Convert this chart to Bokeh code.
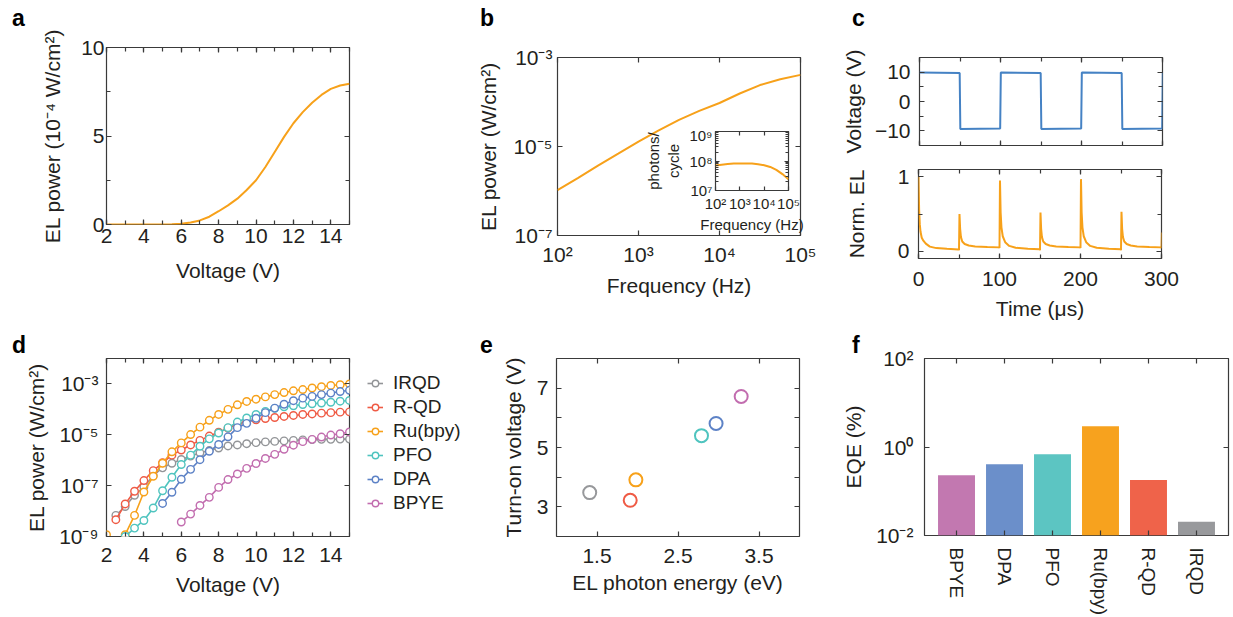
import numpy as np
from bokeh.plotting import figure
from bokeh.layouts import column
from bokeh.models import (GridBox, Range1d, FixedTicker, SingleIntervalTicker,
                          LinearAxis, LogAxis, CustomJSTickFormatter,
                          Legend, LegendItem, Div)
from bokeh.embed import file_html
from bokeh.resources import INLINE

# ---------------- data ----------------
# (a) EL power (1e-4 W/cm^2) vs voltage
A_VOLTAGE = [2.0, 2.5, 3.0, 3.5, 4.0, 4.5, 5.0, 5.5, 6.0, 6.5, 7.0, 7.5, 8.0, 8.5,
             9.0, 9.5, 10.0, 10.5, 11.0, 11.5, 12.0, 12.5, 13.0, 13.5, 14.0, 14.5, 15.0]
A_POWER = [0, 0, 0, 0, 0, 0.002, 0.006, 0.016, 0.045, 0.11, 0.23, 0.44, 0.75, 1.08,
           1.46, 1.95, 2.5, 3.25, 4.1, 4.95, 5.72, 6.35, 6.88, 7.32, 7.66, 7.85, 7.95]

# (b) EL power vs frequency, and inset photons/cycle
B_FREQ = [100, 178, 316, 562, 1000, 1778, 3162, 5623, 10000, 17783, 31623, 56234, 100000]
B_POWER = [1.05e-6, 1.95e-6, 3.72e-6, 6.9e-6, 1.29e-5, 2.29e-5, 3.98e-5, 6.3e-5,
           9.5e-5, 1.55e-4, 2.4e-4, 3.24e-4, 4.07e-4]
B_PHOTONS = [7.0e7, 7.5e7, 7.9e7, 8.2e7, 8.3e7, 8.3e7, 8.2e7, 7.8e7, 7.2e7, 6.3e7,
             5.0e7, 3.6e7, 2.4e7]

# (c) applied voltage and normalised EL vs time (us)
C_V_TIME = [0, 49.6, 50.4, 99.6, 100.4, 149.6, 150.4, 199.6, 200.4, 249.6, 250.4, 299.6, 300.4]
C_VOLT = [9.9, 9.7, -9.4, -9.2, 9.9, 9.7, -9.4, -9.2, 9.9, 9.7, -9.4, -9.2, 9.9]
C_EL_TIME = [0, 0.8, 1.6, 2.5, 4, 6, 9, 14, 22, 35, 49.6,
             50, 50.6, 51.4, 52.4, 54, 57, 62, 70, 85, 99.6,
             100, 100.6, 101.4, 102.4, 104, 107, 112, 120, 135, 149.6,
             150, 150.6, 151.4, 152.4, 154, 157, 162, 170, 185, 199.6,
             200, 200.6, 201.4, 202.4, 204, 207, 212, 220, 235, 249.6,
             250, 250.6, 251.4, 252.4, 254, 257, 262, 270, 285, 299.6,
             300, 300.5]
C_EL = [1.0, 0.55, 0.36, 0.26, 0.18, 0.14, 0.1, 0.06, 0.04, 0.03, 0.022,
        0.012, 0.5, 0.3, 0.19, 0.13, 0.095, 0.075, 0.062, 0.055, 0.05,
        0.04, 0.95, 0.52, 0.32, 0.2, 0.12, 0.07, 0.045, 0.032, 0.024,
        0.012, 0.52, 0.3, 0.19, 0.13, 0.095, 0.075, 0.062, 0.055, 0.05,
        0.04, 0.97, 0.52, 0.32, 0.2, 0.12, 0.07, 0.045, 0.032, 0.024,
        0.012, 0.53, 0.3, 0.19, 0.13, 0.095, 0.075, 0.062, 0.055, 0.05,
        0.04, 0.25]

# (d) EL power (log10 W/cm^2) vs voltage for each emitter
D_VOLTAGE = A_VOLTAGE
D_NAMES = ["IRQD", "R-QD", "Ru(bpy)", "PFO", "DPA", "BPYE"]
D_START = [2.5, 2.5, 2.0, 3.0, 5.0, 6.0]
IRQD_LOG = [-8.17, -7.82, -7.38, -7.05, -6.6, -6.3, -6.12, -5.97, -5.84, -5.71, -5.62, -5.52, -5.44,
            -5.4, -5.35, -5.31, -5.28, -5.26, -5.24, -5.22, -5.2, -5.19, -5.18, -5.18, -5.17, -5.17]
RQD_LOG = [-8.34, -7.72, -7.22, -6.8, -6.41, -6.1, -5.8, -5.6, -5.4, -5.22, -5.05, -4.9, -4.74,
           -4.58, -4.48, -4.41, -4.36, -4.32, -4.28, -4.24, -4.2, -4.18, -4.15, -4.13, -4.11, -4.1]
RU_LOG = [-8.93, -9.6, -8.93, -8.17, -7.25, -6.63, -6.12, -5.67, -5.32, -4.99, -4.7, -4.43, -4.2, -4.0,
          -3.82, -3.69, -3.6, -3.51, -3.42, -3.34, -3.27, -3.22, -3.16, -3.11, -3.06, -3.03, -3.0]
PFO_LOG = [-9.0, -8.67, -8.37, -7.88, -7.2, -6.67, -6.17, -5.8, -5.45, -5.16, -4.93, -4.72, -4.5,
           -4.34, -4.2, -4.08, -3.96, -3.9, -3.86, -3.81, -3.78, -3.75, -3.72, -3.68, -3.65]
DPA_LOG = [-7.7, -7.26, -6.75, -6.36, -5.98, -5.65, -5.38, -5.08, -4.72, -4.55, -4.35, -4.13,
           -3.95, -3.8, -3.66, -3.56, -3.49, -3.42, -3.36, -3.3, -3.25]
BPYE_LOG = [-8.43, -8.12, -7.78, -7.46, -7.07, -6.76, -6.54, -6.32, -6.13, -5.93, -5.77, -5.57,
            -5.41, -5.27, -5.18, -5.09, -5.01, -4.96, -4.89]
D_LOGS = [IRQD_LOG, RQD_LOG, RU_LOG, PFO_LOG, DPA_LOG, BPYE_LOG]
D_COLORS = ["#939598", "#EF5B45", "#F7A11A", "#4FC4BF", "#5D82C6", "#C26DAF"]

# (e) turn-on voltage vs EL photon energy
E_NAMES = ["IRQD", "R-QD", "Ru(bpy)", "PFO", "DPA", "BPYE"]
E_ENERGY = [1.41, 1.91, 1.98, 2.79, 2.97, 3.28]
E_TURNON = [3.48, 3.22, 3.91, 5.40, 5.81, 6.72]
E_COLORS = ["#97989B", "#EF5B45", "#F7A11A", "#4FC4BF", "#5D82C6", "#C26DAF"]

# (f) EQE (%)
F_NAMES = ["BPYE", "DPA", "PFO", "Ru(bpy)", "R-QD", "IRQD"]
F_EQE = [0.23, 0.41, 0.69, 2.96, 0.18, 0.0205]
F_COLORS = ["#C278B0", "#6B8FCA", "#5CC5C2", "#F7A21E", "#EF634A", "#98999C"]
F_FLOOR = 1e-2

# ---------------- style ----------------
FONT = "Liberation Sans"
TXT = "#231f20"
AX = "#3a3a3a"
ORANGE = "#F7A11A"
BLUE = "#4582C4"
TICK_FS = "21px"
LABEL_FS = "21px"

SUP = CustomJSTickFormatter(code="""
const m = {"-": "\u207b", "0": "\u2070", "1": "\u00b9", "2": "\u00b2", "3": "\u00b3",
           "4": "\u2074", "5": "\u2075", "6": "\u2076", "7": "\u2077", "8": "\u2078", "9": "\u2079"};
const e = Math.round(Math.log10(tick));
return "10" + String(e).split("").map((c) => m[c]).join("");
""")
MINUS = CustomJSTickFormatter(code="""
return (tick < 0 ? "\u2212" : "") + String(Math.abs(tick));
""")
BLANK = CustomJSTickFormatter(code="return '';")

placed = []


def make_panel(L, T, W, H, xr, yr, xtype="linear", ytype="linear", bl=90, bt=35, br=30, bb=70):
    p = figure(frame_width=W, frame_height=H, x_range=xr, y_range=yr,
               x_axis_type=xtype, y_axis_type=ytype,
               output_backend="svg", toolbar_location=None,
               min_border_left=bl, min_border_top=bt, min_border_right=br, min_border_bottom=bb)
    p.border_fill_color = None
    p.background_fill_color = "white"
    p.outline_line_color = AX
    p.outline_line_width = 1.2
    p.xgrid.visible = False
    p.ygrid.visible = False
    placed.append(column(p, margin=(T - bt, 0, 0, L - bl)))
    return p


def finish_axes(p, xticker, yticker, xtype="linear", ytype="linear", xfmt=None, yfmt=None,
                tick_fs=TICK_FS, label_fs=LABEL_FS, minor_in=4, major_in=5):
    bx, ly = p.xaxis[0], p.yaxis[0]
    bx.ticker = xticker
    ly.ticker = yticker
    if xfmt is not None:
        bx.formatter = xfmt
    if yfmt is not None:
        ly.formatter = yfmt
    X = LogAxis if xtype == "log" else LinearAxis
    Y = LogAxis if ytype == "log" else LinearAxis
    top = X(ticker=xticker, formatter=BLANK)
    right = Y(ticker=yticker, formatter=BLANK)
    for a in (top, right):
        a.major_label_text_font_size = "1px"
        a.major_label_standoff = 0
    p.add_layout(top, "above")
    p.add_layout(right, "right")
    for a in [bx, ly, top, right]:
        a.axis_line_color = None
        a.major_tick_in = major_in
        a.major_tick_out = 0
        a.minor_tick_in = minor_in
        a.minor_tick_out = 0
        a.major_tick_line_color = AX
        a.minor_tick_line_color = AX
        a.major_tick_line_width = 1.2
        a.minor_tick_line_width = 1.2
    for a in [bx, ly]:
        a.major_label_text_font = FONT
        a.major_label_text_font_size = tick_fs
        a.major_label_text_color = TXT
        a.axis_label_text_font = FONT
        a.axis_label_text_font_size = label_fs
        a.axis_label_text_font_style = "normal"
        a.axis_label_text_color = TXT
    return bx, ly


def letter(text, px, baseline):
    placed.append(Div(text=text, margin=(baseline - 15, 0, 0, px),
                      styles={"font-family": FONT, "font-size": "23px", "font-weight": "bold",
                              "line-height": "17px", "color": "black"}))


# ---------------- panel a ----------------
pa = make_panel(106, 47, 243, 177, Range1d(2, 15), Range1d(0, 10), bl=95, bt=39, br=40, bb=75)
bx, ly = finish_axes(pa, SingleIntervalTicker(interval=2, num_minor_ticks=2),
                     SingleIntervalTicker(interval=5, num_minor_ticks=2))
bx.axis_label = "Voltage (V)"
ly.axis_label = "EL power (10\u207b\u2074 W/cm\u00b2)"
ly.major_label_standoff = 2
ly.axis_label_standoff = 14
bx.major_label_standoff = 4
bx.axis_label_standoff = 13
pa.line(A_VOLTAGE, A_POWER, line_color=ORANGE, line_width=2)
letter("a", 12, 25)

# ---------------- panel b ----------------
pb = make_panel(557, 57, 243, 178, Range1d(1e2, 1e5), Range1d(1e-7, 1e-3),
                xtype="log", ytype="log", bl=110, bt=49, br=20, bb=75)
bx, ly = finish_axes(pb, FixedTicker(ticks=[1e2, 1e3, 1e4, 1e5], minor_ticks=[]),
                     FixedTicker(ticks=[1e-7, 1e-5, 1e-3], minor_ticks=[]),
                     xtype="log", ytype="log", xfmt=SUP, yfmt=SUP)
bx.axis_label = "Frequency (Hz)"
ly.axis_label = "EL power (W/cm\u00b2)"
ly.major_label_standoff = 5
ly.axis_label_standoff = 10
bx.major_label_standoff = 7
bx.axis_label_standoff = 5
pb.line(B_FREQ, B_POWER, line_color=ORANGE, line_width=2)
letter("b", 480, 25)

# inset of b
INSET_MAJOR = [1e7, 1e8, 1e9]
INSET_MINOR = [m * 10 ** e for e in (7, 8) for m in range(2, 10)]
pbi = make_panel(707, 131, 73, 59, Range1d(1e2, 1e5), Range1d(1e7, 1e9),
                 xtype="log", ytype="log", bl=66, bt=5, br=30, bb=45)
bx, ly = finish_axes(pbi, FixedTicker(ticks=[1e2, 1e3, 1e4, 1e5], minor_ticks=[]),
                     FixedTicker(ticks=INSET_MAJOR, minor_ticks=INSET_MINOR),
                     xtype="log", ytype="log",
                     xfmt=SUP, yfmt=SUP, tick_fs="15px", label_fs="15px", minor_in=3, major_in=4)
bx.axis_label = "Frequency (Hz)"
ly.axis_label = "photons/\ncycle"
ly.major_label_standoff = 3
ly.axis_label_standoff = 4
bx.major_label_standoff = 4
bx.axis_label_standoff = 1
pbi.line(B_FREQ, B_PHOTONS, line_color=ORANGE, line_width=2)

# ---------------- panel c ----------------
pc1 = make_panel(918, 57, 243, 88, Range1d(0, 300), Range1d(-15, 15), bl=80, bt=49, br=50, bb=10)
bx, ly = finish_axes(pc1, SingleIntervalTicker(interval=100, num_minor_ticks=2),
                     SingleIntervalTicker(interval=10, num_minor_ticks=2), yfmt=MINUS)
bx.formatter = BLANK
bx.major_label_text_font_size = "1px"
bx.major_label_standoff = 0
ly.axis_label = "Voltage (V)"
ly.major_label_standoff = 9
ly.axis_label_standoff = 7
pc1.line(C_V_TIME, C_VOLT, line_color=BLUE, line_width=2)
letter("c", 852, 25)

pc2 = make_panel(918, 169, 243, 89, Range1d(0, 300), Range1d(-0.1, 1.1), bl=80, bt=10, br=50, bb=70)
bx, ly = finish_axes(pc2, SingleIntervalTicker(interval=100, num_minor_ticks=2),
                     SingleIntervalTicker(interval=1, num_minor_ticks=2))
ly.axis_label = "Norm. EL"
bx.axis_label = "Time (\u03bcs)"
ly.major_label_standoff = 9
ly.axis_label_standoff = 27
bx.major_label_standoff = 13
bx.axis_label_standoff = 8
pc2.line(C_EL_TIME, C_EL, line_color=ORANGE, line_width=2)

# ---------------- panel d ----------------
pd_ = make_panel(106, 358, 243, 178, Range1d(2, 15), Range1d(1e-9, 1e-2), ytype="log",
                 bl=95, bt=30, br=20, bb=72)
bx, ly = finish_axes(pd_, SingleIntervalTicker(interval=2, num_minor_ticks=2),
                     FixedTicker(ticks=[1e-9, 1e-7, 1e-5, 1e-3], minor_ticks=[]),
                     ytype="log", yfmt=SUP)
bx.axis_label = "Voltage (V)"
ly.axis_label = "EL power (W/cm\u00b2)"
ly.major_label_standoff = 8
ly.axis_label_standoff = 8
bx.major_label_standoff = 11
bx.axis_label_standoff = 8
for name, start, logs, col in zip(D_NAMES, D_START, D_LOGS, D_COLORS):
    volts = D_VOLTAGE[D_VOLTAGE.index(start):]
    vals = [10 ** v for v in logs]
    pd_.line(volts, vals, line_color=col, line_width=1.6)
    pd_.scatter(volts, vals, marker="circle", size=7.5, line_color=col,
                fill_color="white", line_width=1.4)
letter("d", 12, 352)

# legend of d: a legend-only canvas beside the plot; the series are re-plotted there
# but fall outside its (0..1) view, so only the legend entries are visible
pleg = figure(frame_width=125, frame_height=160, x_range=Range1d(0, 1), y_range=Range1d(0, 1),
              x_axis_location=None, y_axis_location=None, output_backend="svg",
              toolbar_location=None, min_border=0)
pleg.outline_line_color = None
pleg.background_fill_color = None
pleg.border_fill_color = None
pleg.xgrid.visible = False
pleg.ygrid.visible = False
items = []
for name, start, logs, col in zip(D_NAMES, D_START, D_LOGS, D_COLORS):
    volts = D_VOLTAGE[D_VOLTAGE.index(start):]
    vals = [10 ** v for v in logs]
    r1 = pleg.line(volts, vals, line_color=col, line_width=1.6)
    r2 = pleg.scatter(volts, vals, marker="circle", size=7.5, line_color=col,
                      fill_color="white", line_width=1.4)
    items.append(LegendItem(label=name, renderers=[r1, r2]))
leg = Legend(items=items, location="top_left", margin=0, padding=0, spacing=2,
             glyph_width=16, glyph_height=20, label_height=20, label_standoff=10,
             label_text_font=FONT, label_text_font_size="19px", label_text_color=TXT,
             label_text_baseline="middle",
             border_line_color=None, background_fill_alpha=0)
pleg.add_layout(leg)
placed.append(column(pleg, margin=(372, 0, 0, 367)))

# ---------------- panel e ----------------
pe = make_panel(556, 358, 243, 178, Range1d(1, 4), Range1d(2, 8), bl=95, bt=30, br=20, bb=72)
bx, ly = finish_axes(pe, FixedTicker(ticks=[1.5, 2.5, 3.5], minor_ticks=[]),
                     FixedTicker(ticks=[3, 5, 7], minor_ticks=[4, 6]), minor_in=5)
bx.axis_label = "EL photon energy (eV)"
ly.axis_label = "Turn-on voltage (V)"
ly.major_label_standoff = 8
ly.axis_label_standoff = 9
bx.major_label_standoff = 12
bx.axis_label_standoff = 5
pe.scatter(E_ENERGY, E_TURNON, marker="circle", size=13, fill_color=None,
           line_color=E_COLORS, line_width=2)
letter("e", 480, 352)

# ---------------- panel f ----------------
F_POS = list(range(len(F_NAMES)))
pf = make_panel(919, 358, 304, 177, Range1d(-0.667, len(F_NAMES) - 0.333), Range1d(1e-2, 1e2),
                ytype="log", bl=80, bt=30, br=2, bb=82)
bx, ly = finish_axes(pf, FixedTicker(ticks=F_POS, minor_ticks=[]),
                     FixedTicker(ticks=[1e-2, 1e0, 1e2], minor_ticks=[]), ytype="log", yfmt=SUP)
bx.major_label_overrides = {i: n for i, n in zip(F_POS, F_NAMES)}
bx.major_label_orientation = "vertical"
bx.major_label_text_font_size = "19px"
ly.axis_label = "EQE (%)"
ly.major_label_standoff = 11
ly.axis_label_standoff = 8
bx.major_label_standoff = 12
pf.vbar(x=F_POS, top=F_EQE, bottom=F_FLOOR, width=0.77, fill_color=F_COLORS, line_color=None)
letter("f", 852, 352)

grid = GridBox(children=[(c, 0, 0) for c in placed], width=1233, height=617,
               styles={"overflow": "hidden"})

open("out.html", "w").write(file_html(grid, INLINE))
